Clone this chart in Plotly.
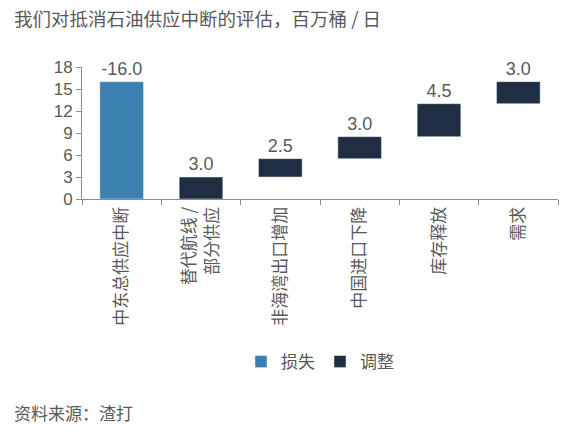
import plotly.graph_objects as go

categories = ["中东总供应中断", "替代航线 /<br>部分供应", "非海湾出口增加", "中国进口下降", "库存释放", "需求"]
changes = [-16.0, 3.0, 2.5, 3.0, 4.5, 3.0]
y_ticks = [0, 3, 6, 9, 12, 15, 18]

# floating bars: loss starts at 0 and goes up, adjustments stack on top of each other
loss_height = [abs(changes[0])]
adj_height = changes[1:]
adj_base = []
running = 0.0
for v in adj_height:
    adj_base.append(running)
    running += v

grey = "#595959"
font_family = "Liberation Sans, Arial, Noto Sans CJK SC"
cjk = "Noto Sans CJK SC"

fig = go.Figure()
fig.add_trace(go.Bar(
    x=categories[:1], y=loss_height, base=[0],
    name="损失", marker=dict(color="#3A80B0"),
    text=["%.1f" % changes[0]], textposition="outside",
    textfont=dict(size=18, color=grey), cliponaxis=False,
))
fig.add_trace(go.Bar(
    x=categories[1:], y=adj_height, base=adj_base,
    name="调整", marker=dict(color="#1F2E42"),
    text=["%.1f" % v for v in adj_height], textposition="outside",
    textfont=dict(size=18, color=grey), cliponaxis=False,
))

fig.update_layout(
    width=574, height=444,
    margin=dict(l=82, r=16, t=67, b=245),
    paper_bgcolor="white", plot_bgcolor="white",
    font=dict(family=font_family, color=grey),
    barmode="overlay", bargap=0.45,
    showlegend=True,
    legend=dict(orientation="h", x=0.5, xanchor="center", y=-1.235, yanchor="middle",
                font=dict(size=17, color=grey, family=cjk)),
    annotations=[
        dict(text="我们对抵消石油供应中断的评估，百万桶 / 日", xref="paper", yref="paper",
             x=-0.148, y=1.37, xanchor="left", yanchor="middle", showarrow=False,
             font=dict(size=18.5, color=grey, family=cjk)),
        dict(text="资料来源：渣打", xref="paper", yref="paper",
             x=-0.148, y=-1.62, xanchor="left", yanchor="middle", showarrow=False,
             font=dict(size=17, color=grey, family=cjk)),
    ],
)
fig.update_xaxes(
    categoryorder="array", categoryarray=categories,
    showline=True, linecolor="#8c8c8c", linewidth=1,
    ticks="outside", tickson="boundaries", ticklen=5, tickcolor="#8c8c8c",
    tickangle=-90, tickfont=dict(size=17, color=grey, family=cjk),
    showgrid=False,
)
fig.update_yaxes(
    range=[0, 18], tickvals=y_ticks,
    showline=True, linecolor="#8c8c8c", linewidth=1,
    ticks="outside", ticklen=5, tickcolor="#8c8c8c",
    tickfont=dict(size=17, color=grey), showgrid=False, zeroline=False,
)

fig.write_html("out.html", config={"displayModeBar": False},
               post_script="document.body.style.margin='0';")
